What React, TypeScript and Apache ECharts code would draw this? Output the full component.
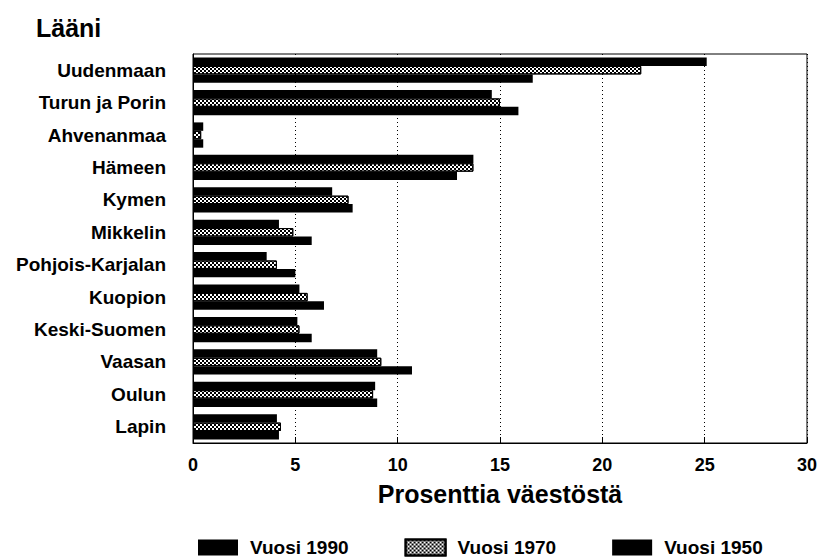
import React, { useEffect, useRef } from "react";
import * as echarts from "echarts";

const categories = [
  "Uudenmaan",
  "Turun ja Porin",
  "Ahvenanmaa",
  "Hämeen",
  "Kymen",
  "Mikkelin",
  "Pohjois-Karjalan",
  "Kuopion",
  "Keski-Suomen",
  "Vaasan",
  "Oulun",
  "Lapin",
];
const v1990 = [25.1, 14.6, 0.5, 13.7, 6.8, 4.2, 3.6, 5.2, 5.1, 9.0, 8.9, 4.1];
const v1970 = [21.9, 15.0, 0.4, 13.7, 7.6, 4.9, 4.1, 5.6, 5.2, 9.2, 8.8, 4.3];
const v1950 = [16.6, 15.9, 0.5, 12.9, 7.8, 5.8, 5.0, 6.4, 5.8, 10.7, 9.0, 4.2];
const seriesNames = ["Vuosi 1990", "Vuosi 1970", "Vuosi 1950"];
const xTicks = [0, 5, 10, 15, 20, 25, 30];

const FONT = "'Liberation Sans', Arial, Helvetica, sans-serif";

export default function App() {
  const ref = useRef<HTMLDivElement>(null);
  useEffect(() => {
    if (!ref.current) return;
    const chart = echarts.init(ref.current, undefined, { renderer: "svg" });
    const hatch = {
      color: "#ffffff",
      borderColor: "#000",
      borderWidth: 1,
      decal: {
        symbol: "rect",
        symbolSize: 1,
        color: "#000",
        backgroundColor: "#ffffff",
        dashArrayX: [
          [2, 2],
          [0, 2, 2, 0],
        ],
        dashArrayY: [2, 0],
      },
    };
    chart.setOption({
      animation: false,
      backgroundColor: "#fff",
      textStyle: { fontFamily: FONT },
      title: {
        text: "Lääni",
        left: 31,
        top: 10,
        textStyle: { fontSize: 25, fontWeight: "bold", color: "#000", fontFamily: FONT },
      },
      legend: {
        top: 533,
        left: 193,
        itemWidth: 40,
        itemHeight: 16,
        itemGap: 56,
        icon: "rect",
        textStyle: {
          fontSize: 19,
          fontWeight: "bold",
          color: "#000",
          fontFamily: FONT,
          padding: [0, 0, 0, 7],
        },
        data: seriesNames,
      },
      grid: { left: 193, right: 13, top: 54, bottom: 117, show: true, borderColor: "#000", borderWidth: 1 },
      xAxis: {
        type: "value",
        min: xTicks[0],
        max: xTicks[xTicks.length - 1],
        interval: 5,
        name: "Prosenttia väestöstä",
        nameLocation: "middle",
        nameGap: 38,
        nameTextStyle: { fontSize: 25, fontWeight: "bold", color: "#000", fontFamily: FONT },
        axisLine: { show: true, lineStyle: { color: "#000" } },
        axisTick: { show: true, inside: true, length: 6, lineStyle: { color: "#000" } },
        axisLabel: { fontSize: 18, fontWeight: "bold", color: "#000", margin: 13, fontFamily: FONT },
        splitLine: { show: true, lineStyle: { color: "#000", type: [1, 3], width: 1 } },
      },
      yAxis: {
        type: "category",
        inverse: true,
        data: categories,
        axisLine: { show: true, lineStyle: { color: "#000" } },
        axisTick: { show: false },
        axisLabel: { fontSize: 19, fontWeight: "bold", color: "#000", margin: 27, fontFamily: FONT },
      },
      series: [
        {
          name: seriesNames[0],
          type: "bar",
          data: v1990,
          barGap: "0%",
          barCategoryGap: "22%",
          itemStyle: { color: "#000" },
        },
        {
          name: seriesNames[1],
          type: "bar",
          data: v1970,
          barGap: "0%",
          barCategoryGap: "22%",
          itemStyle: hatch,
        },
        {
          name: seriesNames[2],
          type: "bar",
          data: v1950,
          barGap: "0%",
          barCategoryGap: "22%",
          itemStyle: { color: "#000" },
        },
      ],
    });
    return () => chart.dispose();
  }, []);
  return (
    <div
      ref={ref}
      style={{ position: "absolute", left: 0, top: 0, width: 820, height: 560 }}
    />
  );
}
